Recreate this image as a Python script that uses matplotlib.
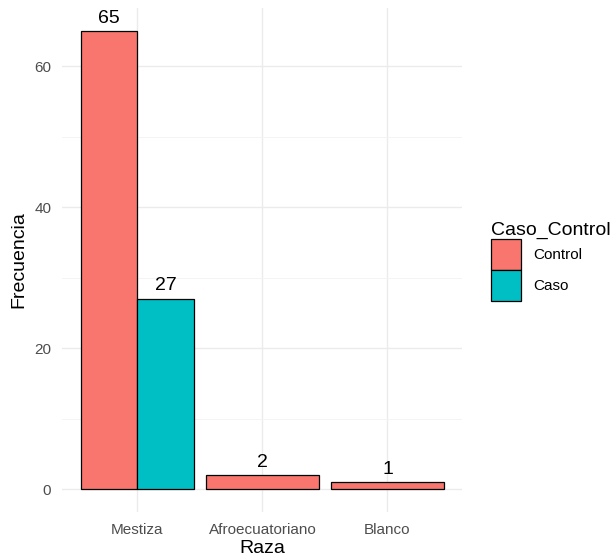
import numpy as np
import matplotlib
matplotlib.use("Agg")
import matplotlib.pyplot as plt
from matplotlib.patches import Rectangle

plt.rcParams['font.family'] = ['Liberation Sans', 'DejaVu Sans']

razas = ["Mestiza", "Afroecuatoriano", "Blanco"]
control = [65, 2, 1]
caso = [27, 0, 0]   # 0 = no hay casos en ese grupo
grupos = ["Control", "Caso"]
colores = ["#F8766D", "#00BFC4"]

fig = plt.figure(figsize=(6.15, 5.6), dpi=100)
ax = fig.add_axes([0.1016, 0.0857, 0.6504, 0.9003])

x = np.arange(1, len(razas) + 1)
ancho = 0.9
for i in range(len(razas)):
    vals = [(control[i], colores[0]), (caso[i], colores[1])]
    vals = [v for v in vals if v[0] > 0]
    w = ancho / len(vals)
    for k, (v, c) in enumerate(vals):
        xc = x[i] - ancho / 2 + w * (k + 0.5)
        ax.bar(xc, v, width=w, color=c, edgecolor="black", linewidth=0.9, zorder=3)
        ax.text(xc, v + 0.6, str(v), ha="center", va="bottom", fontsize=14, zorder=4)

ax.set_xlim(0.4, 3.6)
ax.set_ylim(-3.25, 68.25)
ax.set_xticks(x)
ax.set_xticklabels(razas)
ax.set_yticks([0, 20, 40, 60])
ax.set_yticks([10, 30, 50], minor=True)
ax.grid(True, which="major", color="#EBEBEB", linewidth=1.0, zorder=0)
ax.grid(True, which="minor", axis="y", color="#F3F3F3", linewidth=0.6, zorder=0)
ax.tick_params(axis="both", which="both", length=0, labelsize=11, labelcolor="#4D4D4D", pad=8)
for s in ax.spines.values():
    s.set_visible(False)
ax.set_xlabel("Raza", fontsize=14, labelpad=2)
ax.set_ylabel("Frecuencia", fontsize=14, labelpad=5)

# leyenda
handles = [Rectangle((0, 0), 1, 1, facecolor=c, edgecolor="black", linewidth=0.9) for c in colores]
leg = fig.legend(handles, grupos, title="Caso_Control", loc="upper left",
                 bbox_to_anchor=(0.788, 0.615), frameon=False, fontsize=11,
                 title_fontsize=14, handlelength=2.0, handleheight=2.7,
                 handletextpad=0.8, labelspacing=0.02, borderaxespad=0)
leg._legend_box.align = "left"

fig.savefig("out.png", dpi=100)
